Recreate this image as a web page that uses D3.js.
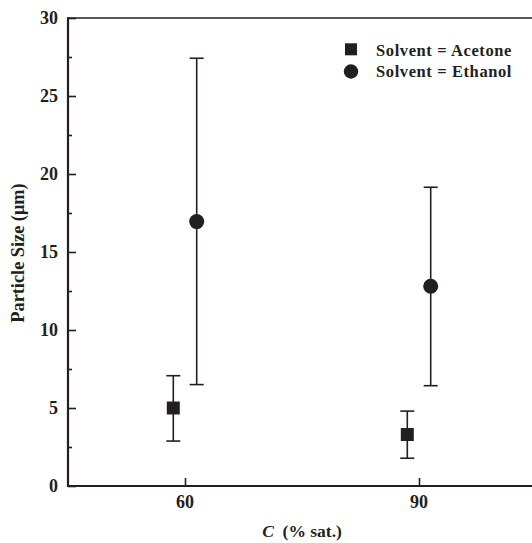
<!DOCTYPE html>
<html>
<head>
<meta charset="utf-8">
<script src="https://cdn.jsdelivr.net/npm/d3@7"></script>
<style>
  html, body { margin: 0; padding: 0; background: #fff; }
  svg { display: block; }
  text { font-family: "Liberation Serif", "Times New Roman", serif; font-weight: bold; fill: #231f20; }
</style>
</head>
<body>
<svg id="chart" width="532" height="543"></svg>
<script>
// Particle size vs. saturation for two solvents (mean with min/max bars)
const concentrations = [60, 90];

const acetoneX = [58.5, 88.5];
const acetoneMean = [5.0, 3.3];
const acetoneLow = [2.88, 1.78];
const acetoneHigh = [7.07, 4.8];

const ethanolX = [61.5, 91.5];
const ethanolMean = [16.95, 12.8];
const ethanolLow = [6.5, 6.43];
const ethanolHigh = [27.42, 19.15];

const yMajorTicks = [0, 5, 10, 15, 20, 25, 30];
const yMinorTicks = [2.5, 7.5, 12.5, 17.5, 22.5, 27.5];

const legendLabels = ["Solvent = Acetone", "Solvent = Ethanol"];

const ink = "#231f20";
const svg = d3.select("#chart");

const x = d3.scaleLinear().domain([45, 105]).range([68, 536]);
const y = d3.scaleLinear().domain([0, 30]).range([486, 18]);

// frame: top edge
svg.append("line").attr("x1", x(45)).attr("x2", x(105)).attr("y1", y(30)).attr("y2", y(30))
  .attr("stroke", ink).attr("stroke-width", 1.6);

// y axis, ticks pointing inward
const yAxis = d3.axisRight(y).tickValues(yMajorTicks).tickSize(8).tickFormat("");
const gy = svg.append("g").attr("transform", `translate(${x(45)},0)`).call(yAxis);
gy.select(".domain").remove();
gy.selectAll(".tick line").attr("stroke", ink).attr("stroke-width", 1.6);

const yMinor = d3.axisRight(y).tickValues(yMinorTicks).tickSize(4).tickFormat("");
const gym = svg.append("g").attr("transform", `translate(${x(45)},0)`).call(yMinor);
gym.select(".domain").remove();
gym.selectAll(".tick line").attr("stroke", ink).attr("stroke-width", 1.6);

svg.append("line").attr("x1", x(45)).attr("x2", x(45)).attr("y1", y(30) - 0.8).attr("y2", y(0) + 1)
  .attr("stroke", ink).attr("stroke-width", 2.2);

// y tick labels
svg.append("g").selectAll("text").data(yMajorTicks).join("text")
  .attr("x", x(45) - 10).attr("y", d => y(d) + 6)
  .attr("text-anchor", "end").attr("font-size", 18)
  .text(d => d);

// x axis, ticks pointing up
const xAxis = d3.axisTop(x).tickValues(concentrations).tickSize(8).tickFormat("");
const gx = svg.append("g").attr("transform", `translate(0,${y(0)})`).call(xAxis);
gx.select(".domain").remove();
gx.selectAll(".tick line").attr("stroke", ink).attr("stroke-width", 1.6);
svg.append("line").attr("x1", x(45) - 1).attr("x2", x(105)).attr("y1", y(0)).attr("y2", y(0))
  .attr("stroke", ink).attr("stroke-width", 1.8);

svg.append("g").selectAll("text").data(concentrations).join("text")
  .attr("x", d => x(d)).attr("y", y(0) + 22)
  .attr("text-anchor", "middle").attr("font-size", 18)
  .text(d => d);

// axis titles
const xt = svg.append("text").attr("x", 302).attr("y", 537)
  .attr("text-anchor", "middle").attr("font-size", 17.5);
xt.append("tspan").attr("font-style", "italic").text("C");
xt.append("tspan").text("\u2002(% sat.)");

svg.append("text")
  .attr("transform", `translate(24,${y(15) + 1}) rotate(-90)`)
  .attr("text-anchor", "middle").attr("font-size", 18.3)
  .text("Particle Size (\u03bcm)");

// error bars
function errorBars(xs, lows, highs) {
  const g = svg.append("g").attr("stroke", ink).attr("stroke-width", 1.6);
  xs.forEach((xv, i) => {
    g.append("line").attr("x1", x(xv)).attr("x2", x(xv)).attr("y1", y(lows[i])).attr("y2", y(highs[i]));
    [lows[i], highs[i]].forEach(v => {
      g.append("line").attr("x1", x(xv) - 7).attr("x2", x(xv) + 7).attr("y1", y(v)).attr("y2", y(v));
    });
  });
}
errorBars(acetoneX, acetoneLow, acetoneHigh);
errorBars(ethanolX, ethanolLow, ethanolHigh);

// markers
const sq = 13;
svg.append("g").selectAll("rect").data(acetoneX).join("rect")
  .attr("x", (d) => x(d) - sq / 2).attr("y", (d, i) => y(acetoneMean[i]) - sq / 2)
  .attr("width", sq).attr("height", sq).attr("fill", ink);

svg.append("g").selectAll("circle").data(ethanolX).join("circle")
  .attr("cx", d => x(d)).attr("cy", (d, i) => y(ethanolMean[i]))
  .attr("r", 7.5).attr("fill", ink);

// legend
const lg = svg.append("g");
lg.append("rect").attr("x", 345).attr("y", 43.3).attr("width", 12).attr("height", 12).attr("fill", ink);
lg.append("circle").attr("cx", 351).attr("cy", 71.5).attr("r", 7.2).attr("fill", ink);
lg.selectAll("text").data(legendLabels).join("text")
  .attr("x", 376).attr("y", (d, i) => 55.7 + i * 21)
  .attr("font-size", 16.5).attr("letter-spacing", 0.6)
  .text(d => d);
</script>
</body>
</html>
